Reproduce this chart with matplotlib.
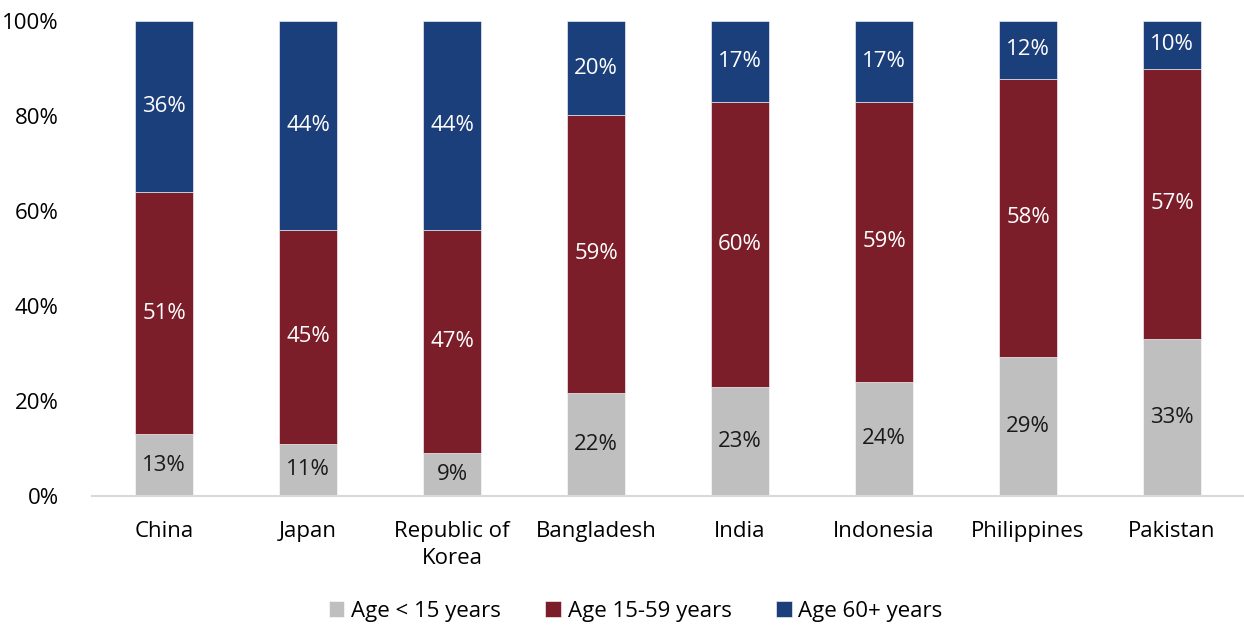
import matplotlib
matplotlib.use("Agg")
import matplotlib.pyplot as plt
from matplotlib.ticker import PercentFormatter
import numpy as np

categories = ["China", "Japan", "Republic of\nKorea", "Bangladesh", "India",
              "Indonesia", "Philippines", "Pakistan"]
under_15 = [13, 11, 9, 22, 23, 24, 29, 33]
age_15_59 = [51, 45, 47, 59, 60, 59, 58, 57]
age_60_plus = [36, 44, 44, 20, 17, 17, 12, 10]

series = [
    ("Age < 15 years", under_15, "#BFBFBF", "#1a1a1a"),
    ("Age 15-59 years", age_15_59, "#7B1E2A", "white"),
    ("Age 60+ years", age_60_plus, "#1B3F7A", "white"),
]

plt.rcParams["font.family"] = ["Open Sans", "DejaVu Sans"]
FS = 16

fig = plt.figure(figsize=(12.44, 6.25), dpi=100)
ax = fig.add_axes([92 / 1244, (625 - 496) / 625, 1 - 92 / 1244, (496 - 21) / 625])

x = np.arange(len(categories))
totals = np.sum([s[1] for s in series], axis=0)
bottom = np.zeros(len(categories))
for label, vals, color, tcolor in series:
    share = np.array(vals, dtype=float) / totals
    ax.bar(x, share, 0.4, bottom=bottom, color=color, label=label,
           edgecolor="white", linewidth=0.4)
    for xi, b, h, v in zip(x, bottom, share, vals):
        ax.text(xi, b + h / 2, f"{v}%", ha="center", va="center",
                color=tcolor, fontsize=FS)
    bottom += share

ax.set_xlim(-0.5, 7.5)
ax.set_ylim(0, 1)
ax.set_yticks(np.linspace(0, 1, 6))
ax.yaxis.set_major_formatter(PercentFormatter(1.0, decimals=0))
ax.set_xticks(x)
ax.set_xticklabels(categories, fontsize=FS, linespacing=1.4)
ax.tick_params(axis="y", labelsize=FS, length=0, pad=24)
ax.tick_params(axis="x", length=0, pad=18)
for side in ["top", "right", "left"]:
    ax.spines[side].set_visible(False)
ax.spines["bottom"].set_color("#D9D9D9")
ax.spines["bottom"].set_linewidth(1.5)

handles, labels = ax.get_legend_handles_labels()
fig.legend(handles, labels, loc="center", bbox_to_anchor=(0.511, 0.022),
           ncol=3, frameon=False, fontsize=FS, handlelength=0.7,
           handleheight=0.7, handletextpad=0.3, columnspacing=2.0)

fig.savefig("out.png", dpi=100)
